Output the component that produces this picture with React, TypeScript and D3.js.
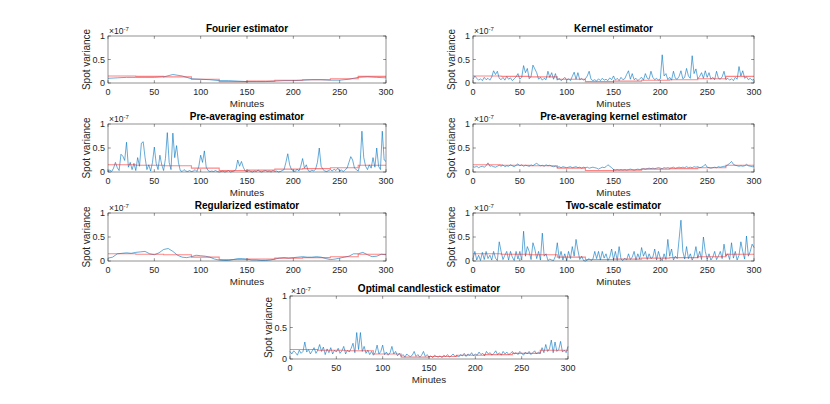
import * as d3 from "d3";
import React from "react";

// x axis (minutes) and y axis (units of 1e-7)
const xTicks = [0, 50, 100, 150, 200, 250, 300];
const yTicks = [0, 0.5, 1];
const yTickLabels = ["0", "0.5", "1"];

// true spot variance: piecewise constant on 30 minute blocks
const trueStart = [0, 30, 60, 90, 120, 150, 180, 210, 240, 270, 300];
const trueLevel = [0.15, 0.14, 0.13, 0.08, 0.03, 0.04, 0.06, 0.07, 0.09, 0.14, 0.14];

// estimates, sampled every 10 minutes
const fourier = [
  0.10, 0.11, 0.12, 0.12, 0.12, 0.12, 0.13, 0.18, 0.15, 0.09, 0.08, 0.07, 0.05, 0.05, 0.04, 0.03,
  0.03, 0.03, 0.04, 0.05, 0.05, 0.06, 0.07, 0.07, 0.06, 0.06, 0.08, 0.12, 0.13, 0.12, 0.11,
];

// sampled every 5 minutes
const regularized = [
  0.06, 0.08, 0.15, 0.16, 0.17, 0.16, 0.18, 0.19, 0.2, 0.15, 0.13, 0.17, 0.24, 0.26, 0.2, 0.12,
  0.08, 0.07, 0.09, 0.12, 0.11, 0.1, 0.08, 0.04, 0.02, 0.01, 0.01, 0.03, 0.05, 0.05, 0.04, 0.02,
  0.02, 0.01, 0.01, 0.02, 0.04, 0.06, 0.07, 0.06, 0.07, 0.08, 0.09, 0.08, 0.08, 0.09, 0.08, 0.05,
  0.03, 0.04, 0.06, 0.08, 0.1, 0.15, 0.15, 0.18, 0.13, 0.09, 0.1, 0.14, 0.13,
];

// sampled every 2 minutes
const kernel = [
  0.08, 0.15, 0.1, 0.06, 0.09, 0.05, 0.12, 0.07, 0.1, 0.06, 0.13, 0.26, 0.18, 0.25, 0.1, 0.07,
  0.12, 0.06, 0.14, 0.08, 0.11, 0.05, 0.09, 0.13, 0.2, 0.08, 0.12, 0.37, 0.22, 0.31, 0.09, 0.14,
  0.38, 0.3, 0.22, 0.08, 0.12, 0.06, 0.1, 0.07, 0.25, 0.12, 0.22, 0.08, 0.2, 0.06, 0.1, 0.05,
  0.08, 0.12, 0.06, 0.09, 0.05, 0.14, 0.23, 0.08, 0.22, 0.07, 0.1, 0.06, 0.09, 0.15, 0.25, 0.08,
  0.05, 0.07, 0.04, 0.09, 0.05, 0.1, 0.06, 0.08, 0.05, 0.11, 0.07, 0.15, 0.06, 0.1, 0.05, 0.12,
  0.07, 0.09, 0.18, 0.26, 0.08, 0.2, 0.07, 0.1, 0.05, 0.09, 0.12, 0.06, 0.2, 0.1, 0.08, 0.25,
  0.12, 0.07, 0.1, 0.06, 0.09, 0.6, 0.15, 0.2, 0.07, 0.12, 0.06, 0.25, 0.1, 0.08, 0.14, 0.26,
  0.09, 0.12, 0.31, 0.15, 0.1, 0.58, 0.2, 0.3, 0.09, 0.14, 0.22, 0.1, 0.26, 0.12, 0.22, 0.08,
  0.12, 0.07, 0.25, 0.1, 0.08, 0.13, 0.25, 0.07, 0.1, 0.06, 0.09, 0.05, 0.12, 0.08, 0.35, 0.15,
  0.26, 0.1, 0.13, 0.07, 0.1, 0.06, 0.08,
];

const preAveraging = [
  0.02, 0.04, 0.01, 0.08, 0.2, 0.09, 0.03, 0.37, 0.33, 0.24, 0.62, 0.1, 0.2, 0.05, 0.18, 0.03,
  0.3, 0.12, 0.6, 0.63, 0.3, 0.05, 0.15, 0.02, 0.2, 0.52, 0.18, 0.05, 0.35, 0.15, 0.03, 0.28,
  0.82, 0.2, 0.05, 0.81, 0.3, 0.55, 0.2, 0.03, 0.01, 0.05, 0.02, 0.01, 0.03, 0.01, 0.02, 0.05,
  0.01, 0.12, 0.35, 0.2, 0.44, 0.1, 0.03, 0.01, 0.02, 0.01, 0.03, 0.01, 0.0, 0.01, 0.02, 0.0,
  0.01, 0.03, 0.0, 0.01, 0.02, 0.05, 0.25, 0.12, 0.22, 0.1, 0.02, 0.01, 0.03, 0.01, 0.0, 0.02,
  0.01, 0.04, 0.01, 0.0, 0.02, 0.03, 0.01, 0.02, 0.0, 0.03, 0.01, 0.02, 0.0, 0.01, 0.03, 0.05,
  0.2, 0.38, 0.15, 0.05, 0.03, 0.01, 0.06, 0.02, 0.12, 0.28, 0.08, 0.15, 0.03, 0.01, 0.04, 0.02,
  0.06, 0.2, 0.5, 0.12, 0.05, 0.02, 0.01, 0.03, 0.05, 0.02, 0.06, 0.03, 0.08, 0.02, 0.04, 0.01,
  0.05, 0.08, 0.2, 0.32, 0.25, 0.08, 0.05, 0.02, 0.15, 0.85, 0.3, 0.12, 0.05, 0.15, 0.08, 0.3,
  0.1, 0.5, 0.12, 0.05, 0.85, 0.25, 0.22,
];

const preAvgKernel = [
  0.11, 0.1, 0.12, 0.09, 0.11, 0.12, 0.1, 0.13, 0.19, 0.12, 0.13, 0.11, 0.1, 0.12, 0.14, 0.12,
  0.15, 0.11, 0.13, 0.12, 0.15, 0.13, 0.11, 0.14, 0.17, 0.13, 0.15, 0.12, 0.14, 0.13, 0.12, 0.15,
  0.13, 0.16, 0.18, 0.15, 0.13, 0.14, 0.12, 0.15, 0.13, 0.14, 0.12, 0.11, 0.12, 0.1, 0.11, 0.09,
  0.11, 0.1, 0.09, 0.1, 0.11, 0.09, 0.1, 0.11, 0.09, 0.1, 0.08, 0.1, 0.09, 0.1, 0.08, 0.09,
  0.1, 0.09, 0.08, 0.06, 0.08, 0.1, 0.09, 0.11, 0.15, 0.12, 0.09, 0.05, 0.04, 0.05, 0.04, 0.05,
  0.04, 0.05, 0.04, 0.05, 0.06, 0.05, 0.04, 0.05, 0.06, 0.05, 0.06, 0.07, 0.06, 0.07, 0.08, 0.07,
  0.08, 0.07, 0.08, 0.09, 0.08, 0.07, 0.09, 0.08, 0.09, 0.08, 0.09, 0.1, 0.08, 0.09, 0.1, 0.09,
  0.1, 0.09, 0.11, 0.09, 0.1, 0.09, 0.11, 0.1, 0.11, 0.09, 0.1, 0.12, 0.16, 0.1, 0.09, 0.08,
  0.09, 0.1, 0.09, 0.11, 0.1, 0.11, 0.12, 0.12, 0.15, 0.18, 0.22, 0.16, 0.14, 0.13, 0.12, 0.13,
  0.12, 0.13, 0.16, 0.13, 0.12, 0.11, 0.11,
];

const twoScale = [
  0.05, 0.2, 0.02, 0.12, 0.01, 0.18, 0.03, 0.2, 0.05, 0.12, 0.02, 0.2, 0.06, 0.01, 0.4, 0.2,
  0.03, 0.12, 0.2, 0.02, 0.2, 0.08, 0.01, 0.2, 0.04, 0.2, 0.02, 0.62, 0.1, 0.3, 0.2, 0.03,
  0.38, 0.25, 0.05, 0.2, 0.02, 0.58, 0.1, 0.15, 0.01, 0.04, 0.02, 0.01, 0.1, 0.38, 0.05, 0.2,
  0.02, 0.15, 0.01, 0.2, 0.05, 0.3, 0.1, 0.45, 0.22, 0.03, 0.1, 0.01, 0.0, 0.02, 0.05, 0.01,
  0.04, 0.2, 0.05, 0.2, 0.02, 0.2, 0.06, 0.15, 0.01, 0.08, 0.25, 0.03, 0.2, 0.01, 0.3, 0.04,
  0.01, 0.06, 0.02, 0.15, 0.03, 0.08, 0.2, 0.02, 0.15, 0.04, 0.28, 0.1, 0.2, 0.03, 0.15, 0.05,
  0.08, 0.25, 0.02, 0.2, 0.06, 0.01, 0.15, 0.03, 0.45, 0.1, 0.25, 0.02, 0.1, 0.05, 0.45, 0.85,
  0.2, 0.04, 0.3, 0.05, 0.15, 0.02, 0.1, 0.3, 0.06, 0.2, 0.03, 0.5, 0.2, 0.04, 0.15, 0.02,
  0.08, 0.2, 0.03, 0.1, 0.2, 0.05, 0.35, 0.1, 0.15, 0.03, 0.38, 0.06, 0.2, 0.02, 0.12, 0.4,
  0.2, 0.04, 0.52, 0.1, 0.2, 0.35, 0.28,
];

const candlestick = [
  0.12, 0.08, 0.13, 0.1, 0.06, 0.14, 0.09, 0.12, 0.27, 0.11, 0.15, 0.08, 0.13, 0.18, 0.09, 0.14,
  0.23, 0.12, 0.19, 0.07, 0.16, 0.1, 0.18, 0.08, 0.14, 0.11, 0.17, 0.09, 0.13, 0.2, 0.08, 0.14,
  0.11, 0.17, 0.25, 0.1, 0.42, 0.15, 0.42, 0.12, 0.2, 0.09, 0.14, 0.07, 0.12, 0.06, 0.1, 0.22,
  0.08, 0.12, 0.22, 0.07, 0.11, 0.06, 0.1, 0.2, 0.08, 0.12, 0.05, 0.09, 0.04, 0.07, 0.03, 0.08,
  0.05, 0.04, 0.06, 0.12, 0.04, 0.07, 0.03, 0.06, 0.12, 0.04, 0.07, 0.03, 0.05, 0.02, 0.06, 0.04,
  0.03, 0.05, 0.02, 0.06, 0.04, 0.07, 0.03, 0.05, 0.08, 0.04, 0.06, 0.03, 0.07, 0.05, 0.09, 0.04,
  0.08, 0.06, 0.1, 0.05, 0.08, 0.06, 0.11, 0.07, 0.09, 0.05, 0.12, 0.08, 0.1, 0.06, 0.09, 0.13,
  0.07, 0.1, 0.06, 0.12, 0.08, 0.11, 0.07, 0.09, 0.12, 0.08, 0.1, 0.07, 0.12, 0.09, 0.06, 0.11,
  0.08, 0.12, 0.07, 0.1, 0.13, 0.08, 0.11, 0.09, 0.18, 0.1, 0.23, 0.12, 0.16, 0.3, 0.1, 0.27,
  0.12, 0.15, 0.28, 0.11, 0.14, 0.1, 0.2,
];

// panel layout: [left, top, right, bottom] in page pixels
const panels = [
  { title: "Fourier estimator", values: fourier, box: [108, 36, 386, 83] },
  { title: "Kernel estimator", values: kernel, box: [473, 36, 754, 83] },
  { title: "Pre-averaging estimator", values: preAveraging, box: [108, 124, 386, 172] },
  { title: "Pre-averaging kernel estimator", values: preAvgKernel, box: [473, 124, 754, 172] },
  { title: "Regularized estimator", values: regularized, box: [108, 213, 386, 261] },
  { title: "Two-scale estimator", values: twoScale, box: [473, 213, 754, 261] },
  { title: "Optimal candlestick estimator", values: candlestick, box: [290, 296, 568, 359] },
];

const font = "'Liberation Sans', Arial, Helvetica, sans-serif";
const ink = "#262626";

function Panel({ title, values, box }: { title: string; values: number[]; box: number[] }) {
  const [left, top, right, bottom] = box;
  const x = d3.scaleLinear().domain([0, 300]).range([left, right]);
  const y = d3.scaleLinear().domain([0, 1]).range([bottom, top]);
  const step = 300 / (values.length - 1);

  const est = d3
    .line<number>()
    .x((_, i) => x(i * step))
    .y((d) => y(d))(values);

  const truth = d3
    .line<number>()
    .x((_, i) => x(trueStart[i]))
    .y((d) => y(d))
    .curve(d3.curveStepAfter)(trueLevel);

  const tick = 2.8;
  const midY = (top + bottom) / 2;

  return (
    <g fontFamily={font} fill={ink}>
      <rect x={left} y={top} width={right - left} height={bottom - top} fill="#fff" />
      <path d={est!} fill="none" stroke="#0072BD" strokeWidth={0.6} />
      <path d={truth!} fill="none" stroke="#ff2020" strokeOpacity={0.55} strokeWidth={1.1} />
      <rect
        x={left}
        y={top}
        width={right - left}
        height={bottom - top}
        fill="none"
        stroke={ink}
        strokeWidth={0.5}
      />
      {xTicks.map((t) => (
        <g key={"x" + t}>
          <line x1={x(t)} x2={x(t)} y1={bottom} y2={bottom - tick} stroke={ink} strokeWidth={0.5} />
          <line x1={x(t)} x2={x(t)} y1={top} y2={top + tick} stroke={ink} strokeWidth={0.5} />
          <text x={x(t)} y={bottom + 11.5} fontSize={9} textAnchor="middle">
            {t}
          </text>
        </g>
      ))}
      {yTicks.map((t, i) => (
        <g key={"y" + t}>
          <line x1={left} x2={left + tick} y1={y(t)} y2={y(t)} stroke={ink} strokeWidth={0.5} />
          <line x1={right} x2={right - tick} y1={y(t)} y2={y(t)} stroke={ink} strokeWidth={0.5} />
          <text x={left - 3} y={y(t)} dy="0.35em" fontSize={9} textAnchor="end">
            {yTickLabels[i]}
          </text>
        </g>
      ))}
      <text x={left + 1} y={top - 2} fontSize={8.5}>
        ×10
        <tspan fontSize={6} dy={-3.5}>
          -7
        </tspan>
      </text>
      <text x={(left + right) / 2} y={top - 4.5} fontSize={10} fontWeight="bold" textAnchor="middle" fill="#000">
        {title}
      </text>
      <text x={(left + right) / 2} y={bottom + 24} fontSize={9.8} textAnchor="middle">
        Minutes
      </text>
      <text
        transform={`translate(${left - 21.5},${midY}) rotate(-90)`}
        fontSize={10}
        textAnchor="middle"
        dy="0.35em"
      >
        Spot variance
      </text>
    </g>
  );
}

export default function App() {
  return (
    <svg
      width={830}
      height={404}
      style={{ position: "absolute", left: 0, top: 0, background: "#fff" }}
    >
      {panels.map((p) => (
        <Panel key={p.title} {...p} />
      ))}
    </svg>
  );
}
